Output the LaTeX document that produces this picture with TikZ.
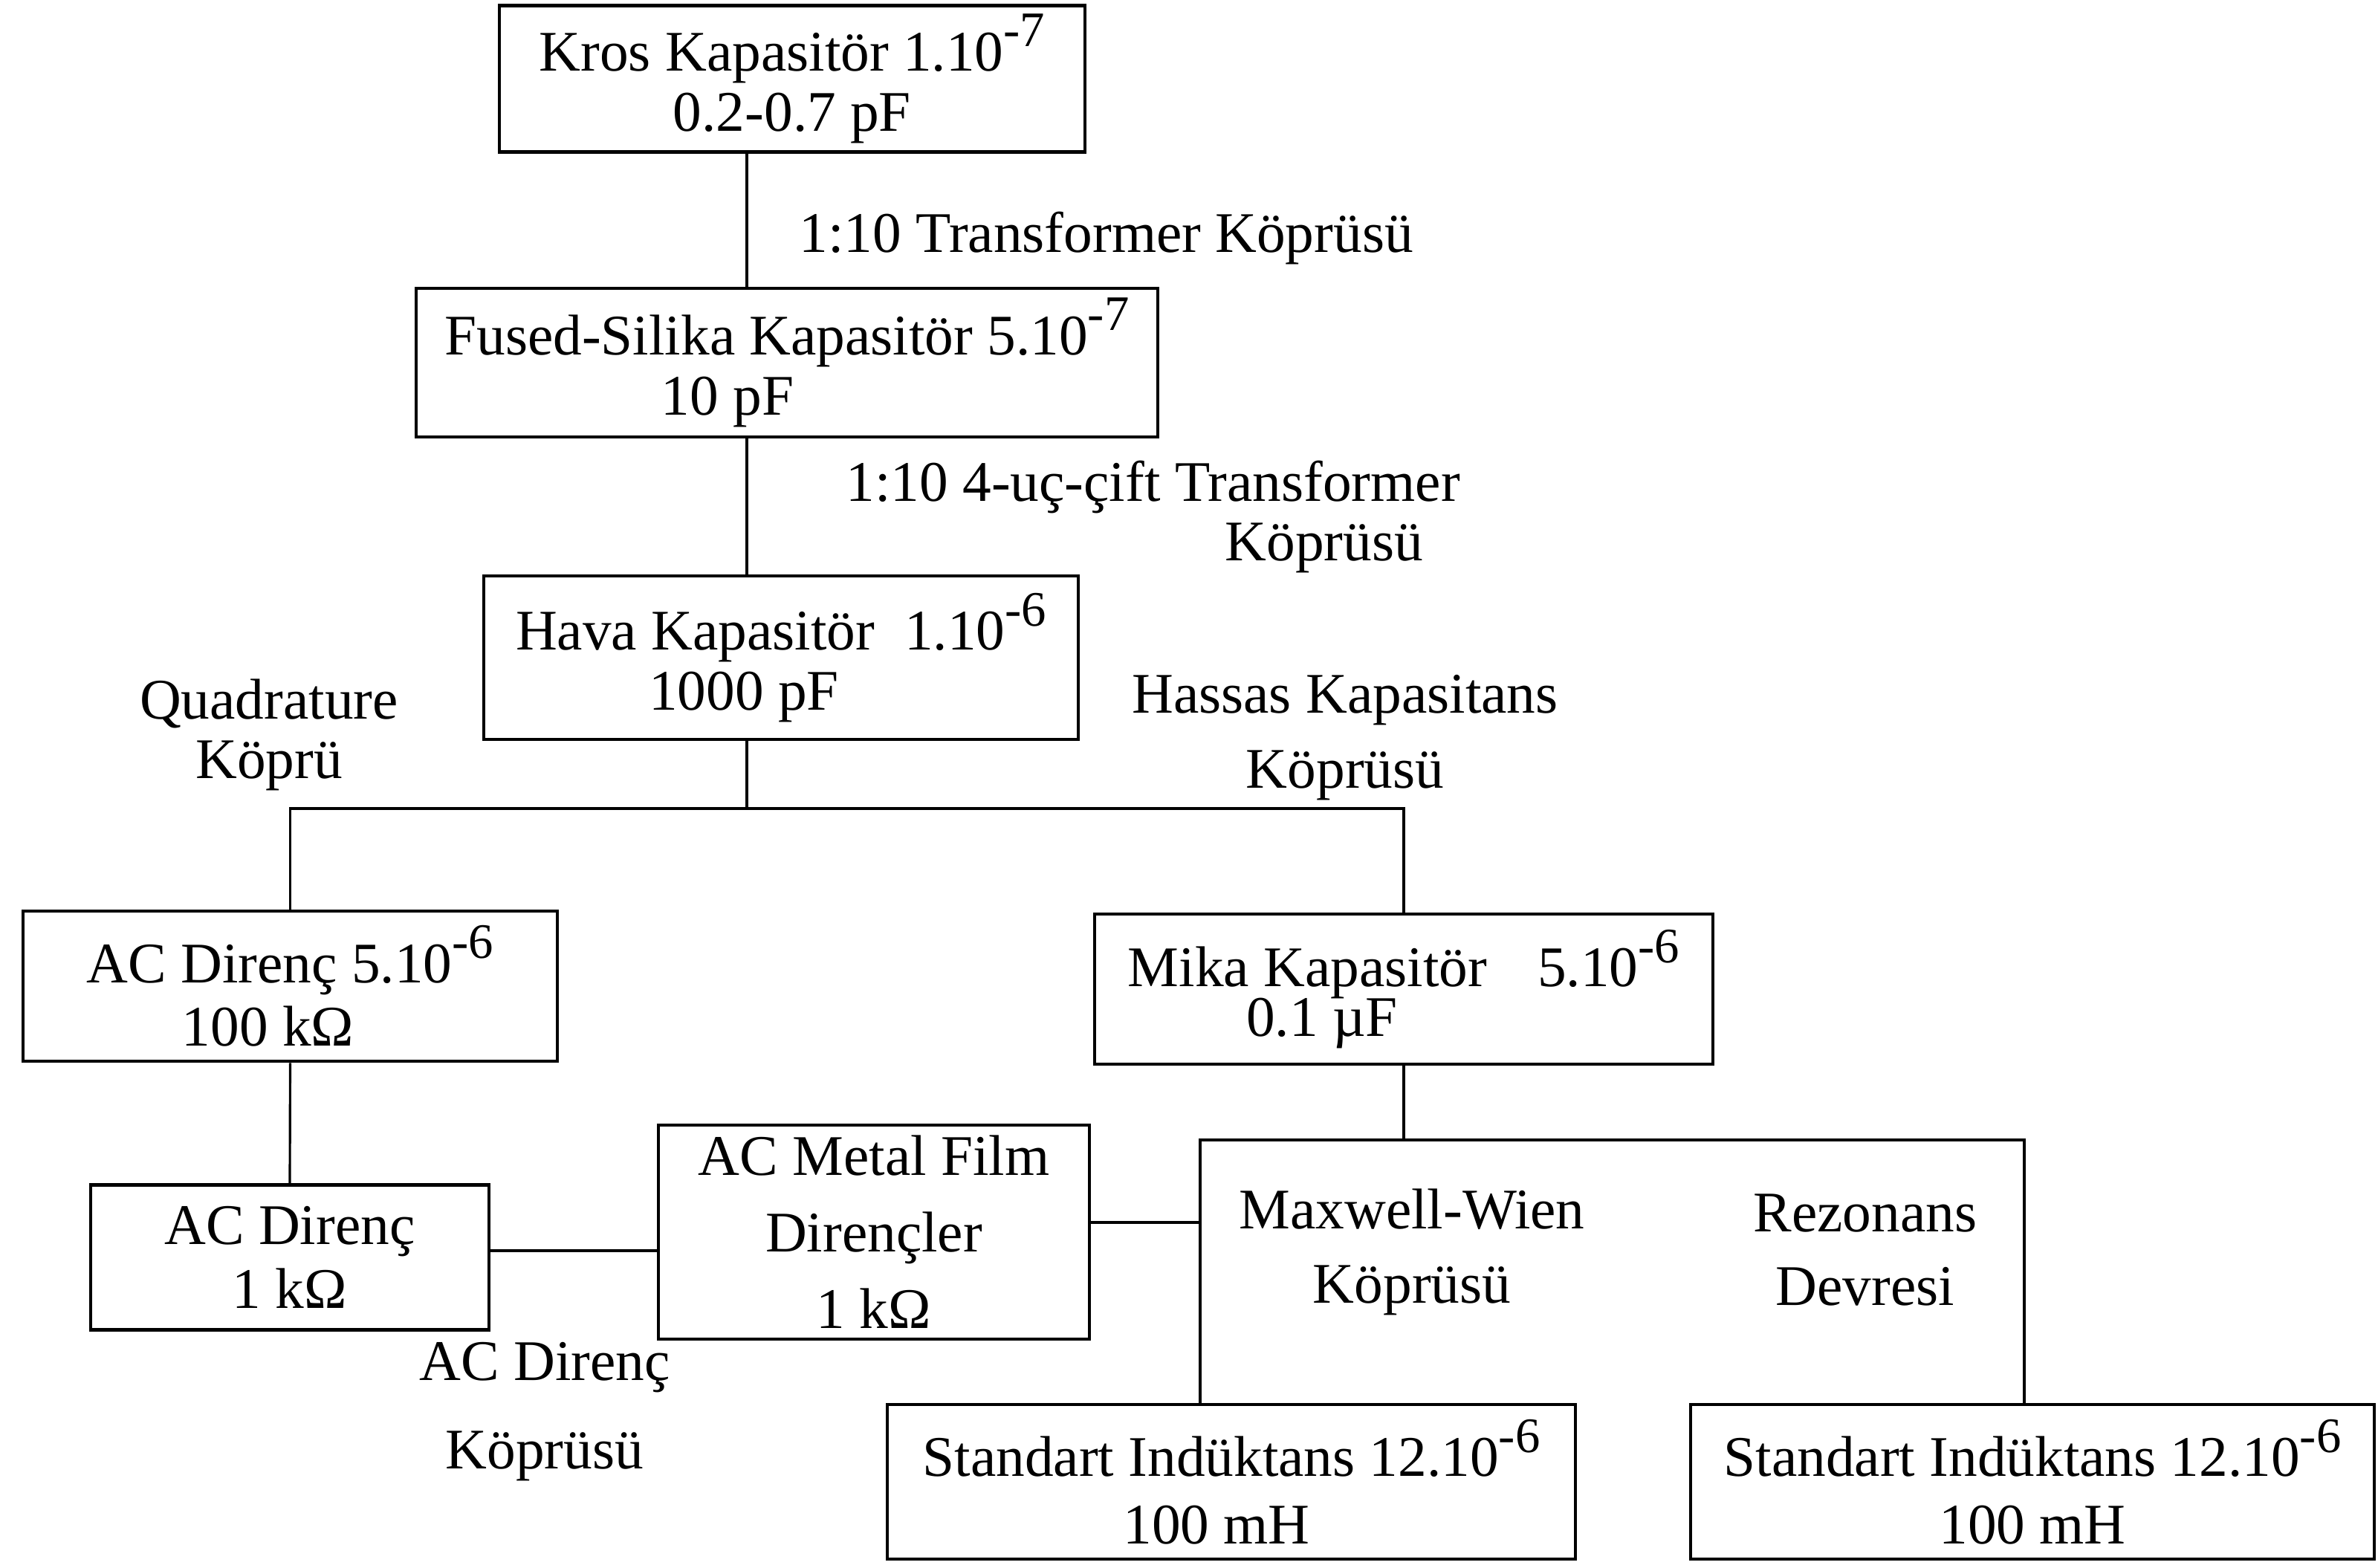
\documentclass[tikz,border=0pt]{standalone}
\usepackage{fontspec}
\setmainfont{Liberation Serif}
\usepackage{tikz}
\tikzset{block/.style={draw, line width=1.3pt, align=center, inner sep=0pt}}
\tikzset{wire/.style={line width=0.9pt}}
\tikzset{note/.style={align=center, inner sep=0pt}}
\newcommand{\pwr}[1]{\raisebox{0.42em}{\fontsize{19}{19}\selectfont#1}}

\begin{document}
\begin{tikzpicture}[font=\fontsize{22}{23}\selectfont]
            \useasboundingbox (0,0) rectangle (32,21.1);
            % capacitance chain
            \node[block, minimum width=7.88cm, minimum height=1.97cm] (kros) at (10.66,20.04) {Kros Kapasitör 1.10\pwr{-7}\\0.2-0.7 pF};
            \node[block, minimum width=9.98cm, minimum height=2.0cm] (fused) at (10.59,16.22) {Fused-Silika Kapasitör 5.10\pwr{-7}\\10 pF\hspace*{1.6cm}};
            \node[block, minimum width=8.0cm, minimum height=2.2cm] (hava) at (10.51,12.25) {Hava Kapasitör\hspace{0.4cm}1.10\pwr{-6}\\1000 pF\hspace*{1.0cm}};
            \node[block, minimum width=7.19cm, minimum height=2.02cm] (acd5) at (3.905,7.83) {AC Direnç 5.10\pwr{-6}\\[0.05cm]100 kΩ\hspace*{0.6cm}};
            \node[block, minimum width=8.32cm, minimum height=2.02cm] (mika) at (18.89,7.79) {Mika Kapasitör\hspace{0.68cm}5.10\pwr{-6}\\[-0.14cm]0.1 µF\hspace*{2.2cm}};
            \node[block, minimum width=5.36cm, minimum height=1.95cm] (acd1) at (3.90,4.18) {AC Direnç\\[0.05cm]1 kΩ};
            \node[block, minimum width=5.8cm, minimum height=2.88cm] (metal) at (11.76,4.52) {AC Metal Film\\[0.22cm]Dirençler\\[0.22cm]1 kΩ};
            \node[block, minimum width=9.26cm, minimum height=2.08cm] (sind1) at (16.57,1.16) {Standart Indüktans 12.10\pwr{-6}\\[0.1cm]100 mH\hspace*{0.4cm}};
            \node[block, minimum width=9.2cm, minimum height=2.08cm] (sind2) at (27.35,1.16) {Standart Indüktans 12.10\pwr{-6}\\[0.1cm]100 mH};
            % bridge labels
            \node[note, anchor=base west] (ltrafo) at (10.75,17.70) {1:10 Transformer Köprüsü};
            \node[note, anchor=base west, align=left] (l4uc) at (11.38,13.55) {1:10 4-uç-çift Transformer\\\hspace*{5.1cm}Köprüsü};
            \node[note] (lquad) at (3.62,11.21) {Quadrature\\Köprü};
            \node[note] (lhassas) at (18.10,11.17) {Hassas Kapasitans\\[0.2cm]Köprüsü};
            \node[note] (lacbr) at (7.33,2.10) {AC Direnç\\[0.38cm]Köprüsü};
            \node[note] (lmaxw) at (19.0,4.25) {Maxwell-Wien\\[0.19cm]Köprüsü};
            \node[note] (lrez) at (25.1,4.28) {Rezonans\\[0.19cm]Devresi};
            % connectors
            \coordinate (spine) at (10.05,0);
            \coordinate (split) at (10.05,10.22);
            \coordinate (rlink) at (0,4.27);
            \coordinate (mlink) at (0,4.65);
            \coordinate (fl) at (16.15,5.76);
            \coordinate (fr) at (27.24,5.76);
            \draw[wire] (kros.south -| spine) -- (fused.north -| spine);
            \draw[wire] (fused.south -| spine) -- (hava.north -| spine);
            \draw[wire] (hava.south -| spine) -- (split);
            \draw[wire] (acd5.north) |- (split) -| (mika.north);
            \draw[wire] (acd5.south) -- (acd1.north);
            \draw[wire] (acd1.east |- rlink) -- (metal.west |- rlink);
            \draw[wire] (metal.east |- mlink) -- (fl |- mlink);
            \draw[wire] (mika.south) -- (mika.south |- fl);
            \draw[wire] (sind1.north -| fl) -- (fl) -- (fr) -- (sind2.north -| fr);
        \end{tikzpicture}
\end{document}
